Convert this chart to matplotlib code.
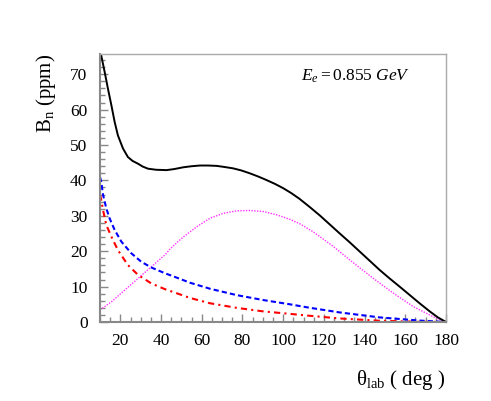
import numpy as np
import matplotlib
matplotlib.use("Agg")
import matplotlib.pyplot as plt
from matplotlib.ticker import MultipleLocator

plt.rcParams['font.family'] = ['Liberation Serif', 'DejaVu Serif']
plt.rcParams['mathtext.fontset'] = 'custom'
plt.rcParams['mathtext.rm'] = 'Liberation Serif'
plt.rcParams['mathtext.it'] = 'Liberation Serif:italic'
plt.rcParams['mathtext.bf'] = 'Liberation Serif:bold'

# Data
theta_total = [10, 10.6, 12.3, 13.9, 15.6, 17.2, 18.8, 21.3, 23.7, 26, 28.7, 31, 33.6, 37.6,
               42.7, 46.5, 50.9, 55, 59.1, 63, 67.3, 71, 75.4, 79.5, 83.6, 87.7, 91.8, 96,
               100, 104, 108, 113, 118, 123, 127.8, 132.7, 137.6, 142.5, 147.4, 152.3,
               157.2, 162, 167, 172, 176, 180]
b_total = [76.5, 75.3, 70.6, 65.9, 61.2, 56.5, 52.7, 49.0, 46.6, 45.5, 44.7, 43.9, 43.3, 43.0,
           42.9, 43.2, 43.7, 44.0, 44.2, 44.2, 44.1, 43.8, 43.4, 42.8, 42.0, 41.1, 40.1, 39.0,
           37.8, 36.4, 34.8, 32.5, 30.1, 27.5, 25.0, 22.5, 19.9, 17.3, 14.7, 12.3,
           10.0, 7.7, 5.3, 3.0, 1.3, 0.0]

theta_mag = [10, 15.6, 22.1, 28.7, 35.2, 41.8, 44.4, 48.3, 50.9, 57.5, 64, 70.5, 77.1, 83.6,
             90.2, 96.7, 103.3, 108, 114.7, 124.5, 134.3, 144.1, 154, 163.8, 173.6, 180]
b_mag = [3.4, 5.7, 9.0, 12.3, 15.6, 18.9, 20.6, 22.7, 24.0, 26.9, 29.3, 30.7, 31.4, 31.5,
         31.2, 30.3, 29.0, 27.8, 25.5, 21.4, 16.8, 12.4, 8.2, 4.4, 1.5, 0.0]

theta_blue = [10, 10.6, 11.5, 13.1, 14.7, 17.2, 20.5, 25.4, 30.3, 35.2, 41.8, 48.3, 54.2, 64,
              77.1, 90.2, 103.3, 112.2, 127.8, 147.4, 167, 180]
b_blue = [41.0, 39.6, 35.9, 32.1, 29.3, 26.0, 22.7, 19.4, 17.0, 15.4, 13.8, 12.4, 11.1, 9.4,
          7.6, 6.2, 5.0, 4.1, 2.7, 1.3, 0.4, 0.0]

theta_red = [10, 10.6, 11.5, 13.1, 15.6, 18.8, 23.7, 28.7, 35.2, 41.8, 48.3, 54.2, 64, 77.1,
             90.2, 103.3, 112.2, 127.8, 147.4, 167, 180]
b_red = [36.0, 34.5, 31.6, 27.4, 24.1, 20.3, 16.1, 13.3, 10.9, 9.3, 8.0, 6.8, 5.3, 4.0,
         3.0, 2.3, 1.8, 1.0, 0.35, 0.05, 0.0]

fig = plt.figure(figsize=(4.91, 4.01), dpi=100)
ax = fig.add_axes([100/491, 1-322/401, 346/491, 268/401])

ax.plot(theta_mag, b_mag, color='#ff33ff', lw=1.0, ls=(0, (1, 1)))
ax.plot(theta_red, b_red, color='#ff0000', lw=1.5, ls=(0, (3, 2, 1, 2)))
ax.plot(theta_blue, b_blue, color='#0000ff', lw=1.5, ls=(0, (2.5, 1.5)))
ax.plot(theta_total, b_total, color='black', lw=1.4)

ax.set_xlim(10, 180)
ax.set_ylim(0, 75.7)
ax.xaxis.set_major_locator(MultipleLocator(20))
ax.xaxis.set_minor_locator(MultipleLocator(5))
ax.yaxis.set_major_locator(MultipleLocator(10))
ax.yaxis.set_minor_locator(MultipleLocator(2))
ax.tick_params(which='both', direction='in', color='#888888', labelsize=12.5, width=1)
ax.tick_params(which='major', length=6)
ax.tick_params(which='minor', length=3.5)
ax.tick_params(axis='x', pad=8)
ax.tick_params(axis='y', pad=9)

for s in ['top', 'right']:
    ax.spines[s].set_color('#aaaaaa')
    ax.spines[s].set_linewidth(1.0)
for s in ['bottom', 'left']:
    ax.spines[s].set_color('#888888')
    ax.spines[s].set_linewidth(1.5)

fig.text(445/491, 1-380/401, r'$\mathrm{\theta_{lab}}$ ( deg )', fontsize=15,
         ha='right', va='center')
fig.text(46/491, 1-54/401, r'$\mathrm{B_n}$ (ppm)', fontsize=15, rotation=90,
         ha='center', va='top')
ax.text(0.58, 0.915, r'$\mathit{E_e = 0.855\ GeV}$', transform=ax.transAxes,
        fontsize=12.5, ha='left', va='center')

fig.savefig('out.png', dpi=100)
